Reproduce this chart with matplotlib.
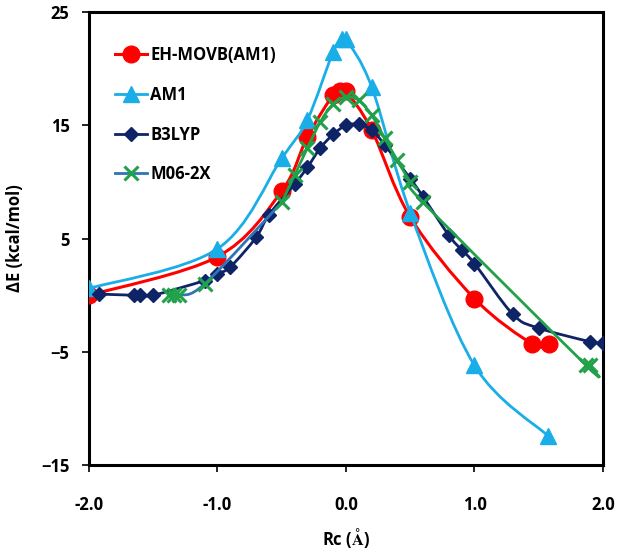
import matplotlib
matplotlib.use("Agg")
import matplotlib.pyplot as plt
import numpy as np
from matplotlib.lines import Line2D
from matplotlib.patches import PathPatch
from matplotlib.path import Path

# values
eh_x = [-2.0, -1.0, -0.5, -0.3, -0.1, -0.05, 0.0, 0.2, 0.5, 1.0, 1.45, 1.58]
eh_y = [0.0, 3.4, 9.2, 14.0, 17.7, 18.0, 18.0, 14.6, 6.9, -0.3, -4.3, -4.3]

am1_x = [-2.0, -1.0, -0.5, -0.3, -0.1, -0.03, 0.0, 0.2, 0.5, 1.0, 1.57]
am1_y = [0.6, 4.1, 12.1, 15.5, 21.5, 22.6, 22.6, 18.4, 7.3, -6.2, -12.4]

b3_x = [-1.92, -1.65, -1.6, -1.5, -1.1, -1.0, -0.9, -0.7, -0.6, -0.4, -0.3, -0.2,
        -0.1, 0.0, 0.1, 0.2, 0.3, 0.5, 0.6, 0.8, 0.9, 1.0, 1.3, 1.5, 1.9, 2.0]
b3_y = [0.1, 0.0, 0.0, 0.0, 1.3, 1.9, 2.5, 5.1, 7.1, 9.8, 11.3, 13.0,
        14.2, 15.0, 15.1, 14.6, 13.3, 10.3, 8.7, 5.3, 4.0, 2.8, -1.7, -2.9, -4.1, -4.2]

m06_x = [-1.38, -1.34, -1.3, -1.1, -0.5, -0.4, -0.3, -0.2, -0.1, 0.0, 0.1, 0.2,
         0.3, 0.4, 0.5, 0.6, 1.87, 1.9]
m06_y = [0.0, 0.0, 0.0, 1.0, 8.2, 10.6, 13.0, 15.3, 16.9, 17.5, 17.2, 15.9,
         13.9, 11.9, 10.0, 8.2, -6.2, -6.2]

x_ticks = [-2.0, -1.0, 0.0, 1.0, 2.0]
y_ticks = [-15, -5, 5, 15, 25]

RED = "#FF0000"
CYAN = "#1AAEE8"
NAVY = "#0E2466"
GREEN = "#21A24A"
BLUE = "#2E75B6"


def smooth_path(xs, ys):
    # Excel-style smoothed line: cubic Bezier segments through the points
    pts = np.column_stack([xs, ys]).astype(float)
    n = len(pts)
    verts = [pts[0]]
    codes = [Path.MOVETO]
    for i in range(n - 1):
        p_prev = pts[max(i - 1, 0)]
        p0 = pts[i]
        p1 = pts[i + 1]
        p_next = pts[min(i + 2, n - 1)]
        c1 = p0 + (p1 - p_prev) / 6.0
        c2 = p1 - (p_next - p0) / 6.0
        verts += [c1, c2, p1]
        codes += [Path.CURVE4] * 3
    return Path(verts, codes)


def add_curve(ax, xs, ys, color, lw, zorder):
    patch = PathPatch(smooth_path(xs, ys), facecolor="none", edgecolor=color,
                      linewidth=lw, zorder=zorder, capstyle="round")
    ax.add_patch(patch)


plt.rcParams["font.family"] = ["Open Sans", "DejaVu Sans"]
plt.rcParams["font.weight"] = "bold"
plt.rcParams["mathtext.fontset"] = "stix"

fig = plt.figure(figsize=(6.24, 5.53), dpi=100)
ax = fig.add_axes([0.1426, 0.159, 0.8237, 0.819])

add_curve(ax, eh_x, eh_y, RED, 2.2, 2)
ax.plot(eh_x, eh_y, ls="none", marker="o", ms=12, color=RED, zorder=3)

add_curve(ax, am1_x, am1_y, CYAN, 2.0, 4)
ax.plot(am1_x, am1_y, ls="none", marker="^", ms=12, color=CYAN, zorder=5)

add_curve(ax, b3_x, b3_y, NAVY, 2.0, 6)
ax.plot(b3_x, b3_y, ls="none", marker="D", ms=7, color=NAVY, zorder=7)

# M06-2X line is blue on the left branch and green from the first TS-region point on
split = m06_x.index(-0.5)
add_curve(ax, m06_x[: split + 1], m06_y[: split + 1], BLUE, 2.0, 8)
add_curve(ax, m06_x[split:], m06_y[split:], GREEN, 2.0, 8)
ax.plot(m06_x, m06_y, ls="none", marker="x", ms=10, mew=2.2, color=GREEN, zorder=9)

ax.set_xlim(-2.0, 2.0)
ax.set_ylim(-15, 25)
ax.set_xticks(x_ticks)
ax.set_xticklabels([f"{v:.1f}" for v in x_ticks])
ax.set_yticks(y_ticks)

for side in ["left", "right", "top", "bottom"]:
    ax.spines[side].set_linewidth(2.2)
    ax.spines[side].set_color("black")
ax.tick_params(direction="out", length=5, width=1.2, labelsize=12)
ax.tick_params(axis="y", pad=9)
ax.tick_params(axis="x", pad=17)

ax.set_xlabel(r"Rc ($\mathbf{\AA}$)", fontsize=12, fontweight="bold", labelpad=9)
ax.set_ylabel("ΔE (kcal/mol)", fontsize=12, fontweight="bold", labelpad=12)

handles = [
    Line2D([], [], color=RED, lw=2.2, marker="o", ms=12),
    Line2D([], [], color=CYAN, lw=2.0, marker="^", ms=12),
    Line2D([], [], color=NAVY, lw=2.0, marker="D", ms=7),
    Line2D([], [], color=BLUE, lw=2.0, marker="x", ms=10, mew=2.2, mec=GREEN),
]
labels = ["EH-MOVB(AM1)", "AM1", "B3LYP", "M06-2X"]
ax.legend(handles, labels, loc="upper left", bbox_to_anchor=(0.022, 0.958),
          frameon=False, handlelength=1.9, handletextpad=0.2,
          labelspacing=1.3, prop={"weight": "bold", "size": 12})

fig.savefig("out.png", dpi=100)
